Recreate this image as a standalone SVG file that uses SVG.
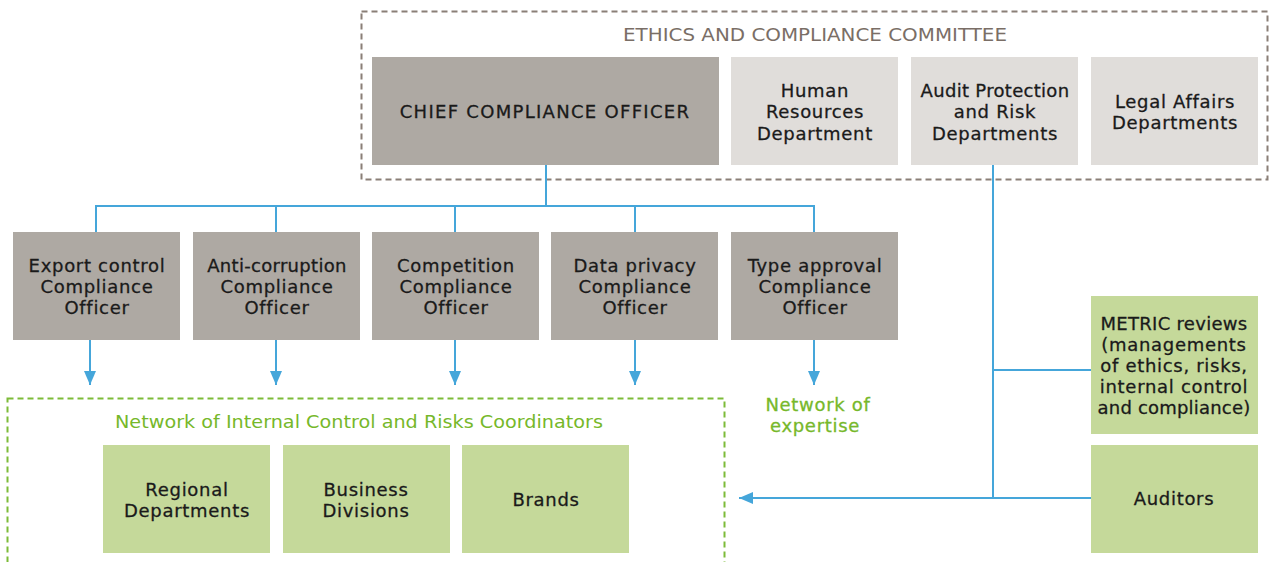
<svg xmlns="http://www.w3.org/2000/svg" width="1270" height="562" viewBox="0 0 1270 562">
<defs>
<style>
text{font-family:"DejaVu Sans","Liberation Sans",Arial,sans-serif;font-size:18px;letter-spacing:0.7px;text-anchor:middle;fill:#1a1a1a;stroke:#1a1a1a;stroke-width:0.3px}
.dark{fill:#aea9a3}
.light{fill:#e0ddda}
.green{fill:#c5d99a}
text.gt{fill:#76b82a;stroke:#76b82a}
.conn{stroke:#45a6da;stroke-width:2;fill:none}
</style>
<marker id="ah" viewBox="0 0 14 12" refX="14" refY="6" markerWidth="14" markerHeight="12" markerUnits="userSpaceOnUse" orient="auto">
<path d="M0,0 L14,6 L0,12 z" fill="#45a6da"/>
</marker>
</defs>
<rect width="1270" height="562" fill="#fff"/>
<g id="committee">
<rect x="361.5" y="11.5" width="906" height="168" fill="none" stroke="#8a7f77" stroke-width="2" stroke-dasharray="6,4"/>
<text x="815" y="41" style="fill:#7a6e66;stroke:none;font-size:17px;letter-spacing:0" textLength="384" lengthAdjust="spacingAndGlyphs">ETHICS AND COMPLIANCE COMMITTEE</text>
</g>
<g id="network">
<rect x="7.5" y="398.5" width="717" height="170" fill="none" stroke="#7dbb38" stroke-width="2" stroke-dasharray="6,4"/>
<text x="359" y="428" class="gt" style="stroke:none;font-size:17px;letter-spacing:0" textLength="488" lengthAdjust="spacingAndGlyphs">Network of Internal Control and Risks Coordinators</text>
</g>
<g id="connectors">
<path class="conn" d="M546,165 V206 M96,232 V206 H814 V232 M276,206 V232 M455,206 V232 M635,206 V232"/>
<path class="conn" marker-end="url(#ah)" d="M90,340 V385"/>
<path class="conn" marker-end="url(#ah)" d="M276,340 V385"/>
<path class="conn" marker-end="url(#ah)" d="M455,340 V385"/>
<path class="conn" marker-end="url(#ah)" d="M635,340 V385"/>
<path class="conn" marker-end="url(#ah)" d="M814,340 V385"/>
<path class="conn" d="M993,165 V498 M993,370 H1091"/>
<path class="conn" marker-end="url(#ah)" d="M1091,498 H739"/>
</g>
<g id="chief"><rect class="dark" x="372" y="57" width="347" height="108"/><text x="545" y="118" style="letter-spacing:1.3px">CHIEF COMPLIANCE OFFICER</text></g>
<g id="hr"><rect class="light" x="731" y="57" width="167" height="108"/><text x="815" y="97">Human</text><text x="815" y="118">Resources</text><text x="815" y="140">Department</text></g>
<g id="audit"><rect class="light" x="911" y="57" width="167" height="108"/><text x="995" y="97" style="letter-spacing:0.3px">Audit Protection</text><text x="995" y="118">and Risk</text><text x="995" y="140">Departments</text></g>
<g id="legal"><rect class="light" x="1091" y="57" width="167" height="108"/><text x="1175" y="108">Legal Affairs</text><text x="1175" y="129">Departments</text></g>
<g id="export"><rect class="dark" x="13" y="232" width="167" height="108"/><text x="97" y="272">Export control</text><text x="97" y="293">Compliance</text><text x="97" y="314">Officer</text></g>
<g id="anticorruption"><rect class="dark" x="193" y="232" width="167" height="108"/><text x="277" y="272" style="letter-spacing:0.3px">Anti-corruption</text><text x="277" y="293">Compliance</text><text x="277" y="314">Officer</text></g>
<g id="competition"><rect class="dark" x="372" y="232" width="167" height="108"/><text x="456" y="272">Competition</text><text x="456" y="293">Compliance</text><text x="456" y="314">Officer</text></g>
<g id="dataprivacy"><rect class="dark" x="551" y="232" width="167" height="108"/><text x="635" y="272">Data privacy</text><text x="635" y="293">Compliance</text><text x="635" y="314">Officer</text></g>
<g id="typeapproval"><rect class="dark" x="731" y="232" width="167" height="108"/><text x="815" y="272">Type approval</text><text x="815" y="293">Compliance</text><text x="815" y="314">Officer</text></g>
<g id="expertise"><text class="gt" x="818" y="411">Network of</text><text class="gt" x="815" y="432">expertise</text></g>
<g id="metric"><rect class="green" x="1091" y="296" width="167" height="138"/><text x="1174" y="330" style="letter-spacing:0.3px">METRIC reviews</text><text x="1174" y="351">(managements</text><text x="1174" y="372">of ethics, risks,</text><text x="1174" y="393">internal control</text><text x="1174" y="414" style="letter-spacing:0.2px">and compliance)</text></g>
<g id="auditors"><rect class="green" x="1091" y="445" width="167" height="108"/><text x="1174" y="505">Auditors</text></g>
<g id="regional"><rect class="green" x="103" y="445" width="167" height="108"/><text x="187" y="496">Regional</text><text x="187" y="517">Departments</text></g>
<g id="business"><rect class="green" x="283" y="445" width="167" height="108"/><text x="366" y="496">Business</text><text x="366" y="517">Divisions</text></g>
<g id="brands"><rect class="green" x="462" y="445" width="167" height="108"/><text x="546" y="506">Brands</text></g>
</svg>
